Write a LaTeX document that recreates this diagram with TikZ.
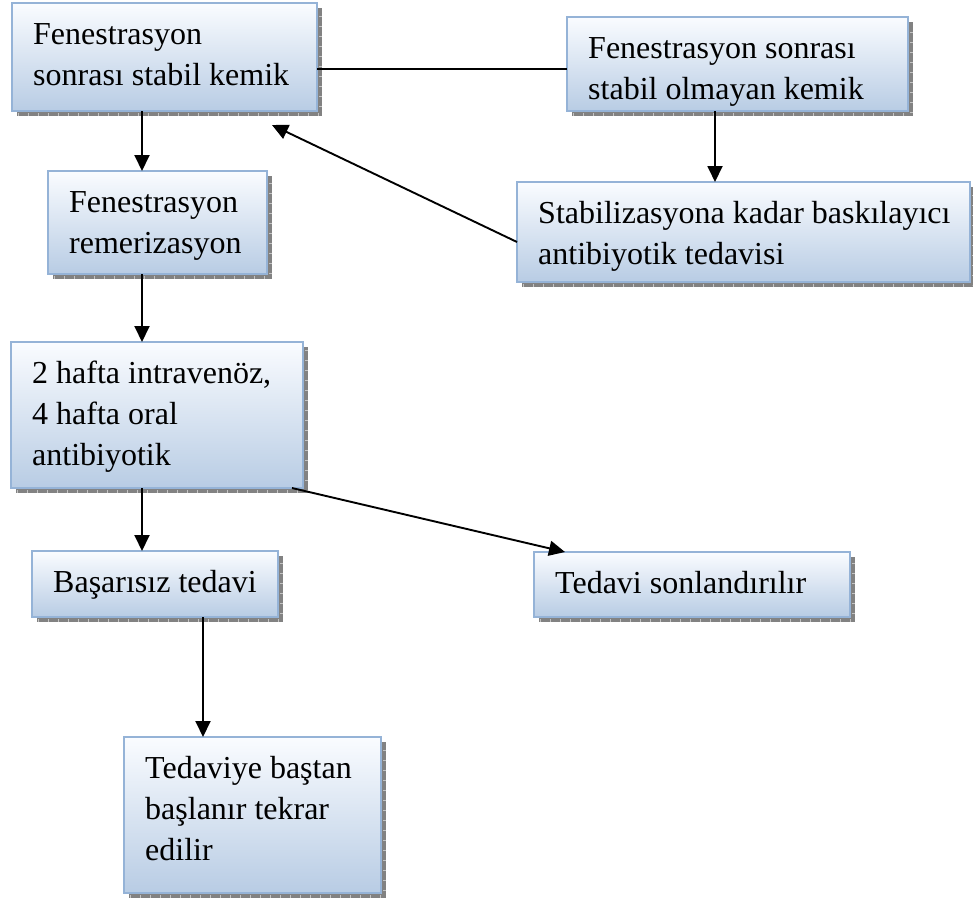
\documentclass[tikz,border=0pt]{standalone}
\usepackage{fontspec}
\setmainfont{Liberation Serif}
\usetikzlibrary{arrows.meta}

\definecolor{boxedge}{RGB}{149,179,215}
\definecolor{boxtop}{RGB}{250,252,255}
\definecolor{boxbottom}{RGB}{184,204,228}
\definecolor{shadowgrey}{RGB}{130,130,130}
\definecolor{tickgrey}{RGB}{195,195,195}

% one box: name, left, top, right, bottom, lines of text
\newcommand{\flowbox}[6]{%
  % offset shadow with small tick marks
  \fill[shadowgrey] (#2+5,#3+5) rectangle (#4+5,#5+5);
  \draw[tickgrey, line width=3pt, dash pattern=on 1pt off 9pt]
    (#2+6,#5+3.5) -- (#4+3.5,#5+3.5) -- (#4+3.5,#3+6);
  \node[boxstyle, anchor=north west,
        minimum width={(#4-#2)*1pt}, minimum height={(#5-#3)*1pt}]
        (#1) at (#2,#3) {};
  \node[anchor=base west, inner sep=0pt] (#1t) at (#2+21,#3+41) {\vtop{#6}};
}

\begin{document}
\begin{tikzpicture}[x=1pt, y=-1pt,
  font=\fontsize{32}{41}\selectfont,
  boxstyle/.style={rectangle, draw=boxedge, line width=1.8pt,
    top color=boxtop, bottom color=boxbottom, inner sep=0pt, outer sep=0pt},
  arr/.style={draw=black, line width=1.9pt, -{Triangle[length=16pt,width=15pt]}},
  link/.style={draw=black, line width=1.9pt}]

\useasboundingbox (0,0) rectangle (973,902);

\flowbox{b1}{12}{3}{317}{111}{\hbox{Fenestrasyon}\hbox{sonrası stabil kemik}}
\flowbox{b2}{567}{17}{908}{111}{\hbox{Fenestrasyon sonrası}\hbox{stabil olmayan kemik}}
\flowbox{b3}{48}{171}{267}{274}{\hbox{Fenestrasyon}\hbox{remerizasyon}}
\flowbox{b4}{517}{182}{970}{282}{\hbox{Stabilizasyona kadar baskılayıcı}\hbox{antibiyotik tedavisi}}
\flowbox{b5}{11}{342}{303}{488}{\hbox{2 hafta intravenöz,}\hbox{4 hafta oral}\hbox{antibiyotik}}
\flowbox{b6}{32}{551}{278}{617}{\hbox{Başarısız tedavi}}
\flowbox{b7}{534}{552}{850}{617}{\hbox{Tedavi sonlandırılır}}
\flowbox{b8}{124}{737}{381}{893}{\hbox{Tedaviye baştan}\hbox{başlanır tekrar}\hbox{edilir}}

% connector end points on the box edges
\coordinate (p1) at ([xshift=130pt]b1.south west);
\coordinate (p2) at ([xshift=94pt]b3.south west);
\coordinate (p3) at ([xshift=131pt]b5.south west);
\coordinate (p4) at ([xshift=281pt]b5.south west);
\coordinate (q4) at ([xshift=31pt]b7.north west);
\coordinate (p5) at ([xshift=171pt]b6.south west);
\coordinate (p6) at ([yshift=-66pt]b1.north east);
\coordinate (p7) at ([xshift=148pt]b2.south west);
\coordinate (p8) at ([yshift=-10pt]b4.west);
\coordinate (q8) at ([xshift=260pt,yshift=-14pt]b1.south west);

\draw[link] (p6) -- (p6 -| b2.west);
\draw[arr] (p1) -- (p1 |- b3.north);
\draw[arr] (p2) -- (p2 |- b5.north);
\draw[arr] (p3) -- (p3 |- b6.north);
\draw[arr] (p4) -- (q4);
\draw[arr] (p5) -- (p5 |- b8.north);
\draw[arr] (p7) -- (p7 |- b4.north);
\draw[arr] (p8) -- (q8);

\end{tikzpicture}
\end{document}
